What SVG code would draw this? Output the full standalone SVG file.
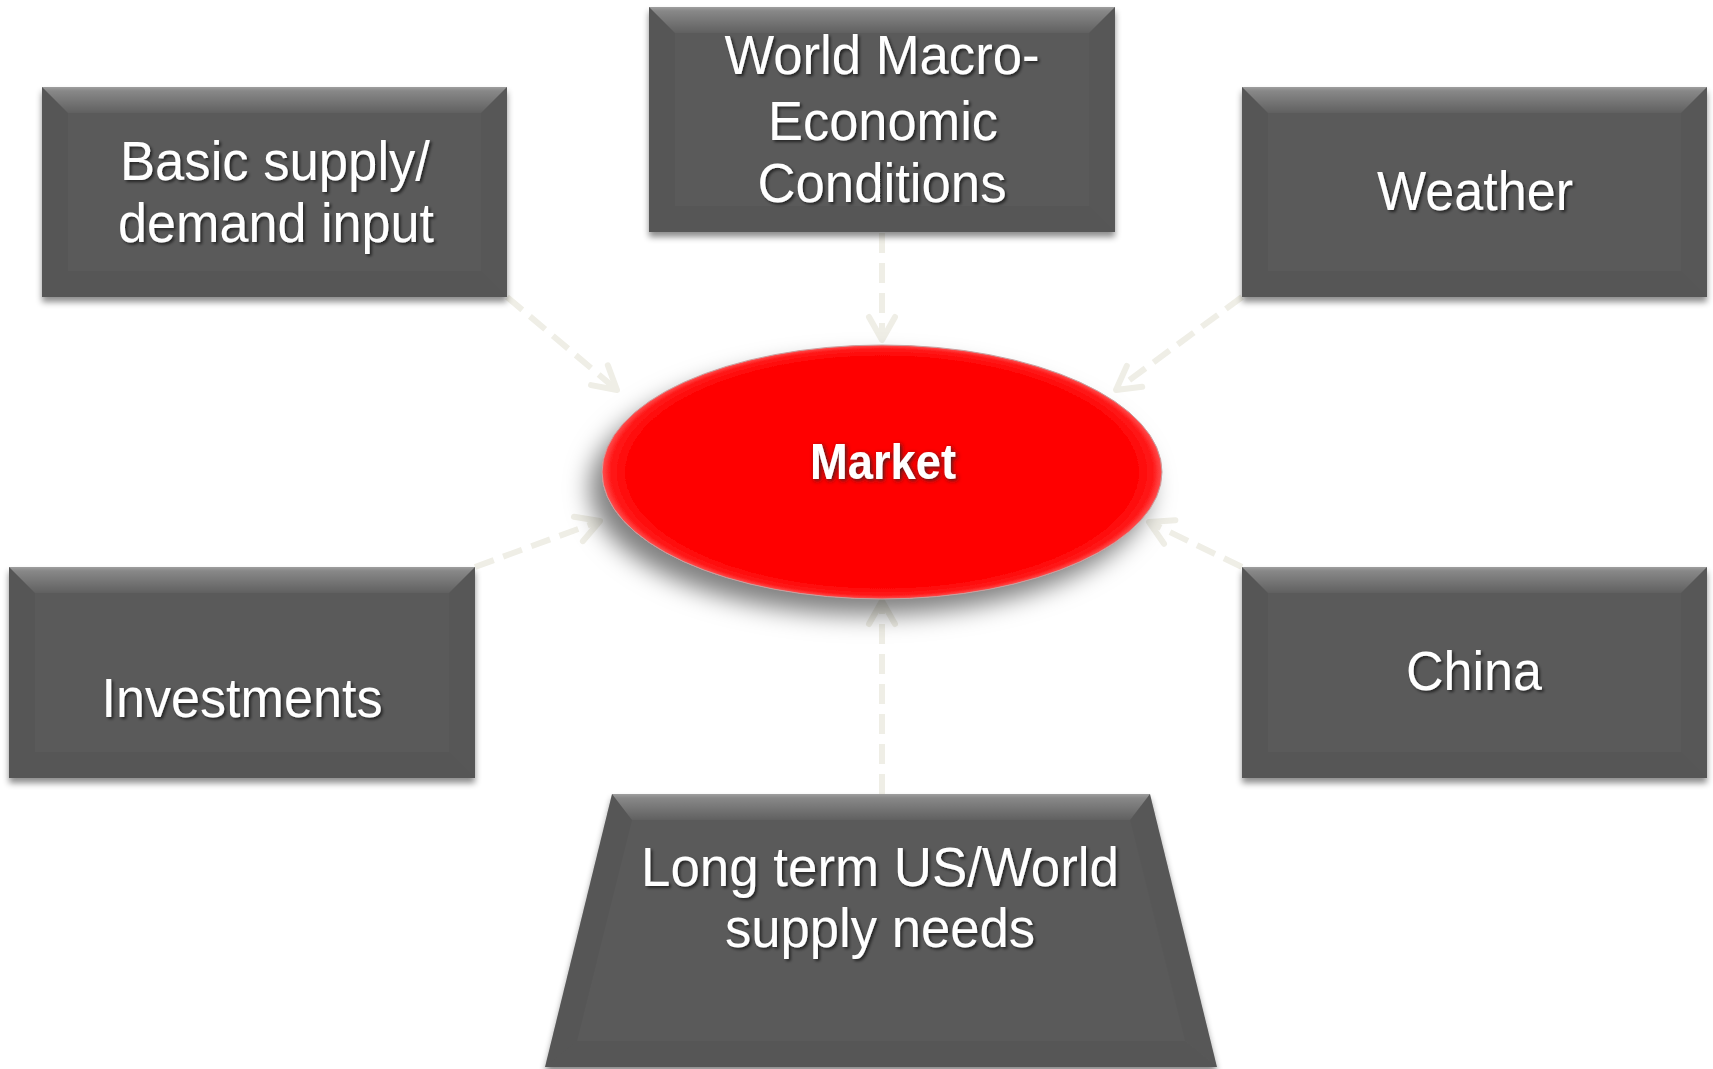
<svg xmlns="http://www.w3.org/2000/svg" width="1713" height="1069" viewBox="0 0 1713 1069">
<style>
.face{fill:#5a5a5a}
.bt{fill:url(#gTop)}
.bl{fill:#000;fill-opacity:0.045}
.br{fill:#000;fill-opacity:0.025}
.bb{fill:#000;fill-opacity:0.04}
.lbl{font-family:"Liberation Sans",Arial,sans-serif;font-size:56px;fill:#ffffff;text-anchor:middle;filter:url(#tsh)}
.mk{font-family:"Liberation Sans",Arial,sans-serif;font-size:50px;font-weight:bold;fill:#ffffff;text-anchor:middle;filter:url(#msh)}
.con{fill:none;stroke:#efeee6;stroke-width:6;stroke-dasharray:20 10;marker-end:url(#ah)}
</style>
<defs>
<linearGradient id="gTop" x1="0" y1="0" x2="0" y2="1">
<stop offset="0" stop-color="#ffffff" stop-opacity="0.42"/>
<stop offset="0.15" stop-color="#ffffff" stop-opacity="0.28"/>
<stop offset="1" stop-color="#ffffff" stop-opacity="0.04"/>
</linearGradient>
<filter id="bsh" x="-10%" y="-10%" width="120%" height="130%">
<feDropShadow dx="0" dy="5" stdDeviation="3" flood-color="#000" flood-opacity="0.45"/>
</filter>
<filter id="esh" x="-20%" y="-20%" width="140%" height="150%">
<feDropShadow dx="-12" dy="16" stdDeviation="12" flood-color="#000" flood-opacity="0.5"/>
</filter>
<filter id="tsh" x="-10%" y="-20%" width="120%" height="150%">
<feDropShadow dx="2" dy="2" stdDeviation="1.5" flood-color="#000" flood-opacity="0.6"/>
</filter>
<filter id="msh" x="-10%" y="-20%" width="120%" height="150%">
<feDropShadow dx="1.5" dy="1.5" stdDeviation="2" flood-color="#222" flood-opacity="0.9"/>
</filter>
<radialGradient id="gEl" cx="0.5" cy="0.5" r="0.5">
<stop offset="0.9" stop-color="#ff0000"/>
<stop offset="0.97" stop-color="#ff1a1a"/>
<stop offset="1" stop-color="#ff5050"/>
</radialGradient>
<marker id="ah" markerUnits="userSpaceOnUse" markerWidth="40" markerHeight="40" viewBox="-30 -20 40 40" refX="0" refY="0" orient="auto" overflow="visible">
<path d="M-23,-13 L0,0 L-23,13" fill="none" stroke="#efeee6" stroke-width="6" stroke-linecap="round" stroke-linejoin="round"/>
</marker>
</defs>
<rect width="1713" height="1069" fill="#ffffff"/>

<g id="connectors">
<path class="con" d="M507,297 L617,390"/>
<path class="con" d="M882,233 L882,340"/>
<path class="con" d="M1242,297 L1116,390"/>
<path class="con" d="M475,567 L600,521"/>
<path class="con" d="M1242,567 L1149,522"/>
<path class="con" d="M882,794 L882,601"/>
</g>

<g id="market">
<ellipse cx="882" cy="472" rx="280" ry="127" fill="url(#gEl)" filter="url(#esh)"/>
<ellipse cx="882" cy="472" rx="280" ry="127" fill="none" stroke="#c8a0a0" stroke-width="1"/>
<text class="mk" x="883" y="479" textLength="146" lengthAdjust="spacingAndGlyphs">Market</text>
</g>

<g id="basic-supply">
<g filter="url(#bsh)"><rect class="face" x="42" y="87" width="465" height="210"/></g>
<polygon class="bt" points="42,87 507,87 481,113 68,113"/>
<polygon class="bl" points="42,87 68,113 68,271 42,297"/>
<polygon class="br" points="507,87 507,297 481,271 481,113"/>
<polygon class="bb" points="42,297 68,271 481,271 507,297"/>
<text class="lbl" x="275" y="180" textLength="310" lengthAdjust="spacingAndGlyphs">Basic supply/</text>
<text class="lbl" x="276" y="242" textLength="316" lengthAdjust="spacingAndGlyphs">demand input</text>
</g>

<g id="world-macro">
<g filter="url(#bsh)"><rect class="face" x="649" y="7" width="466" height="225"/></g>
<polygon class="bt" points="649,7 1115,7 1089,33 675,33"/>
<polygon class="bl" points="649,7 675,33 675,206 649,232"/>
<polygon class="br" points="1115,7 1115,232 1089,206 1089,33"/>
<polygon class="bb" points="649,232 675,206 1089,206 1115,232"/>
<text class="lbl" x="882" y="74" textLength="315" lengthAdjust="spacingAndGlyphs">World Macro-</text>
<text class="lbl" x="883" y="140" textLength="230" lengthAdjust="spacingAndGlyphs">Economic</text>
<text class="lbl" x="882" y="202" textLength="249" lengthAdjust="spacingAndGlyphs">Conditions</text>
</g>

<g id="weather">
<g filter="url(#bsh)"><rect class="face" x="1242" y="87" width="465" height="210"/></g>
<polygon class="bt" points="1242,87 1707,87 1681,113 1268,113"/>
<polygon class="bl" points="1242,87 1268,113 1268,271 1242,297"/>
<polygon class="br" points="1707,87 1707,297 1681,271 1681,113"/>
<polygon class="bb" points="1242,297 1268,271 1681,271 1707,297"/>
<text class="lbl" x="1475" y="210" textLength="196" lengthAdjust="spacingAndGlyphs">Weather</text>
</g>

<g id="investments">
<g filter="url(#bsh)"><rect class="face" x="9" y="567" width="466" height="211"/></g>
<polygon class="bt" points="9,567 475,567 449,593 35,593"/>
<polygon class="bl" points="9,567 35,593 35,752 9,778"/>
<polygon class="br" points="475,567 475,778 449,752 449,593"/>
<polygon class="bb" points="9,778 35,752 449,752 475,778"/>
<text class="lbl" x="242" y="717" textLength="281" lengthAdjust="spacingAndGlyphs">Investments</text>
</g>

<g id="china">
<g filter="url(#bsh)"><rect class="face" x="1242" y="567" width="465" height="211"/></g>
<polygon class="bt" points="1242,567 1707,567 1681,593 1268,593"/>
<polygon class="bl" points="1242,567 1268,593 1268,752 1242,778"/>
<polygon class="br" points="1707,567 1707,778 1681,752 1681,593"/>
<polygon class="bb" points="1242,778 1268,752 1681,752 1707,778"/>
<text class="lbl" x="1474" y="690" textLength="136" lengthAdjust="spacingAndGlyphs">China</text>
</g>

<g id="long-term">
<g filter="url(#bsh)"><polygon class="face" points="612,794 1150,794 1217,1067 545,1067"/></g>
<polygon class="bt" points="612,794 1150,794 1130,820 632,820"/>
<polygon class="bl" points="612,794 632,820 577,1041 545,1067"/>
<polygon class="br" points="1150,794 1217,1067 1185,1041 1130,820"/>
<polygon class="bb" points="545,1067 577,1041 1185,1041 1217,1067"/>
<text class="lbl" x="880" y="886" textLength="478" lengthAdjust="spacingAndGlyphs">Long term US/World</text>
<text class="lbl" x="880" y="947" textLength="310" lengthAdjust="spacingAndGlyphs">supply needs</text>
</g>
</svg>
